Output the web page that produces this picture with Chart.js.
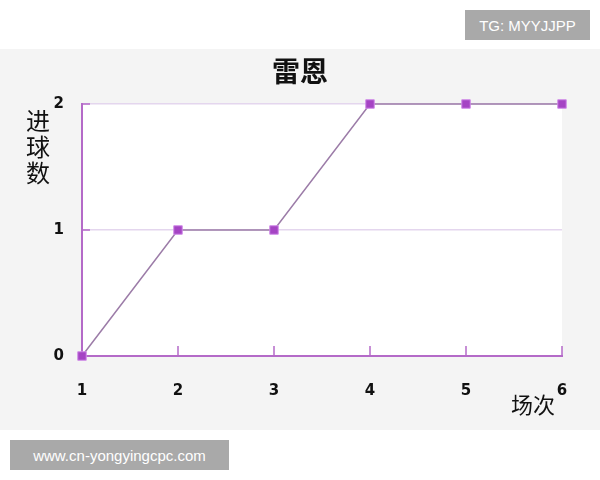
<!DOCTYPE html>
<html>
<head>
<meta charset="utf-8">
<script src="https://cdn.jsdelivr.net/npm/chart.js@4/dist/chart.umd.min.js"></script>
<style>
  html, body { margin: 0; padding: 0; background: #ffffff; }
  #wrap { position: relative; width: 600px; height: 480px; }
  canvas { position: absolute; left: 0; top: 0; }
  .wm { position: absolute; background: #a9a9a9; color: #ffffff;
        font-family: "Liberation Sans", Arial, sans-serif; font-size: 15px;
        display: flex; align-items: center; justify-content: center; }
</style>
</head>
<body>
<div id="wrap">
  <canvas id="c" width="600" height="480"></canvas>
  <div class="wm" style="left:465px; top:10px; width:125px; height:30px;">TG: MYYJJPP</div>
  <div class="wm" style="left:10px; top:440px; width:219px; height:30px;">www.cn-yongyingcpc.com</div>
</div>
<script>
const chartTitle = "雷恩";
const yAxisLabel = ["进", "球", "数"];
const xAxisLabel = "场次";
const matches = [1, 2, 3, 4, 5, 6];
const goals = [0, 1, 1, 2, 2, 2];
const xTicks = [1, 2, 3, 4, 5, 6];
const yTicks = [0, 1, 2];

const AXIS = "#b46ac8";
const GRID = "#e4d6ee";
const LINE = "#9c7ca8";
const MARK = "#a544c4";

const decor = {
  id: "decor",
  beforeDraw(chart) {
    const ctx = chart.ctx, a = chart.chartArea;
    ctx.save();
    ctx.fillStyle = "#f4f4f4";
    ctx.fillRect(0, 49, 600, 381);
    ctx.fillStyle = "#ffffff";
    ctx.fillRect(a.left, a.top, a.right - a.left, a.bottom - a.top);
    ctx.restore();
  },
  beforeDatasetsDraw(chart) {
    const ctx = chart.ctx, a = chart.chartArea;
    const xs = chart.scales.x, ys = chart.scales.y;
    ctx.save();
    ctx.strokeStyle = AXIS;
    ctx.lineWidth = 1.5;
    xTicks.forEach(v => {
      if (v === xTicks[0]) return;
      const px = xs.getPixelForValue(v);
      ctx.beginPath();
      ctx.moveTo(px, a.bottom);
      ctx.lineTo(px, a.bottom - 10);
      ctx.stroke();
    });
    yTicks.forEach(v => {
      if (v === yTicks[0]) return;
      const py = ys.getPixelForValue(v);
      ctx.beginPath();
      ctx.moveTo(a.left, py);
      ctx.lineTo(a.left + 8, py);
      ctx.stroke();
    });
    ctx.restore();
  },
  afterDraw(chart) {
    const ctx = chart.ctx;
    ctx.save();
    ctx.fillStyle = "#111111";
    ctx.textAlign = "center";
    ctx.textBaseline = "middle";
    ctx.font = "bold 28px 'Noto Sans CJK SC'";
    ctx.fillText(chartTitle, 300, 71);
    ctx.font = "24px 'Noto Sans CJK SC'";
    yAxisLabel.forEach((ch, i) => ctx.fillText(ch, 38, 121 + i * 26));
    ctx.font = "22px 'Noto Sans CJK SC'";
    ctx.fillText(xAxisLabel, 533, 405);
    ctx.restore();
  }
};

new Chart(document.getElementById("c"), {
  type: "line",
  data: {
    datasets: [{
      data: matches.map((m, i) => ({ x: m, y: goals[i] })),
      borderColor: LINE,
      borderWidth: 1.5,
      pointStyle: "rect",
      pointRadius: 6,
      pointBackgroundColor: MARK,
      pointBorderColor: "#d08ae8",
      pointBorderWidth: 1,
      tension: 0,
      clip: false
    }]
  },
  options: {
    responsive: false,
    animation: false,
    events: [],
    layout: { padding: { left: 0, right: 38, top: 104, bottom: 74 } },
    plugins: { legend: { display: false }, title: { display: false }, tooltip: { enabled: false } },
    scales: {
      x: {
        type: "linear",
        min: 1, max: 6,
        afterFit(s) { s.height = 50; },
        afterBuildTicks(s) { s.ticks = xTicks.map(v => ({ value: v })); },
        grid: { display: false, drawTicks: false },
        border: { display: true, color: AXIS, width: 2 },
        ticks: { padding: 26, color: "#111111", font: { family: "DejaVu Sans", size: 15, weight: "bold" } }
      },
      y: {
        min: 0, max: 2,
        afterFit(s) { s.width = 82; },
        afterBuildTicks(s) { s.ticks = yTicks.map(v => ({ value: v })); },
        grid: { color: GRID, lineWidth: 1.5, drawTicks: false },
        border: { display: true, color: AXIS, width: 2 },
        ticks: { padding: 18, color: "#111111", font: { family: "DejaVu Sans", size: 15, weight: "bold" } }
      }
    }
  },
  plugins: [decor]
});
</script>
</body>
</html>
